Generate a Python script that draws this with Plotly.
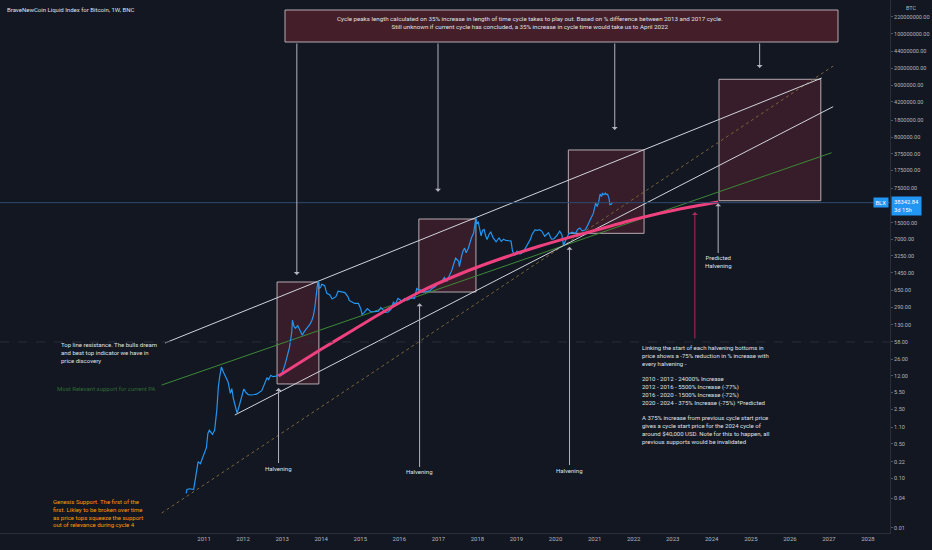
import math
import plotly.graph_objects as go

# weekly closes of the BLX index
price_dates = [
    "2010-07-18", "2010-07-25", "2010-08-22", "2010-09-26", "2010-10-10", "2010-10-24",
    "2010-11-07", "2010-11-28", "2010-12-26", "2011-01-23", "2011-02-06", "2011-02-20",
    "2011-03-20", "2011-04-10", "2011-05-01", "2011-05-15", "2011-05-29", "2011-06-12",
    "2011-07-03", "2011-07-24", "2011-08-14", "2011-09-04", "2011-09-18", "2011-10-02",
    "2011-10-23", "2011-11-06", "2011-11-27", "2011-12-18", "2012-01-08", "2012-01-29",
    "2012-02-19", "2012-03-18", "2012-05-06", "2012-06-24", "2012-07-22", "2012-08-12",
    "2012-08-26", "2012-09-16", "2012-10-07", "2012-11-04", "2012-11-25", "2012-12-30",
    "2013-01-27", "2013-02-17", "2013-03-10", "2013-03-31", "2013-04-07", "2013-04-21",
    "2013-05-05", "2013-05-26", "2013-07-07", "2013-07-28", "2013-08-18", "2013-09-15",
    "2013-10-06", "2013-10-20", "2013-11-03", "2013-11-17", "2013-11-24", "2013-12-01",
    "2013-12-08", "2013-12-15", "2013-12-29", "2014-01-05", "2014-01-19", "2014-02-02",
    "2014-02-16", "2014-02-23", "2014-03-23", "2014-04-13", "2014-05-18", "2014-06-08",
    "2014-07-13", "2014-08-10", "2014-09-07", "2014-09-21", "2014-10-12", "2014-11-09",
    "2014-12-14", "2015-01-04", "2015-01-18", "2015-02-08", "2015-03-08", "2015-04-12",
    "2015-05-17", "2015-06-21", "2015-07-12", "2015-08-23", "2015-09-20", "2015-10-18",
    "2015-11-08", "2015-11-22", "2015-12-20", "2016-01-10", "2016-01-24", "2016-02-21",
    "2016-03-20", "2016-04-24", "2016-05-22", "2016-06-12", "2016-06-26", "2016-07-17",
    "2016-08-07", "2016-09-11", "2016-10-16", "2016-11-06", "2016-12-04", "2016-12-25",
    "2017-01-08", "2017-01-29", "2017-02-26", "2017-03-19", "2017-04-09", "2017-05-07",
    "2017-05-21", "2017-06-11", "2017-07-09", "2017-07-16", "2017-08-06", "2017-08-20",
    "2017-09-03", "2017-09-17", "2017-10-08", "2017-10-22", "2017-11-05", "2017-11-26",
    "2017-12-10", "2017-12-17", "2017-12-24", "2018-01-07", "2018-01-21", "2018-02-04",
    "2018-02-18", "2018-03-04", "2018-03-18", "2018-04-01", "2018-04-22", "2018-05-06",
    "2018-05-27", "2018-06-24", "2018-07-22", "2018-08-12", "2018-09-02", "2018-09-23",
    "2018-10-21", "2018-11-11", "2018-11-25", "2018-12-16", "2019-01-06", "2019-02-03",
    "2019-03-03", "2019-04-07", "2019-05-12", "2019-05-26", "2019-06-23", "2019-07-14",
    "2019-08-04", "2019-08-25", "2019-09-22", "2019-10-27", "2019-11-24", "2019-12-15",
    "2020-01-12", "2020-02-09", "2020-03-01", "2020-03-15", "2020-04-05", "2020-05-03",
    "2020-06-07", "2020-07-05", "2020-07-26", "2020-08-16", "2020-09-06", "2020-10-04",
    "2020-10-25", "2020-11-15", "2020-12-06", "2020-12-20", "2021-01-03", "2021-01-10",
    "2021-01-24", "2021-02-07", "2021-02-21", "2021-03-07", "2021-03-14", "2021-03-28",
    "2021-04-11", "2021-04-18", "2021-05-02", "2021-05-16", "2021-05-23", "2021-06-06",
    "2021-06-14",
]
price_values = [
    0.05, 0.06, 0.062, 0.06, 0.093, 0.16,
    0.22, 0.20, 0.30, 0.42, 0.82, 0.95,
    0.78, 0.95, 2.5, 7.2, 12, 18,
    14, 11.5, 9, 5.3, 6.6, 4.2,
    2.8, 2.1, 3.0, 4.2, 6.5, 5.5,
    5.0, 4.9, 5.1, 6.0, 8.5, 11,
    10, 12.3, 11.5, 11.8, 12.5, 13.5,
    20, 30, 45, 90, 160, 120,
    110, 125, 80, 95, 110, 130,
    160, 200, 300, 550, 800, 1000,
    850, 700, 760, 850, 830, 800,
    620, 560, 520, 430, 480, 620,
    600, 580, 480, 400, 380, 350,
    350, 280, 210, 230, 275, 235,
    238, 245, 290, 230, 235, 270,
    380, 330, 440, 410, 390, 440,
    410, 460, 440, 700, 660, 660,
    590, 610, 640, 710, 765, 900,
    910, 960, 1180, 970, 1180, 1650,
    2100, 2900, 2500, 1950, 3200, 4100,
    4600, 3700, 4600, 6000, 7400, 9300,
    15000, 19000, 14000, 16000, 11500, 8200,
    10500, 11000, 8300, 6900, 9000, 9700,
    7500, 6200, 7400, 6300, 7000, 6600,
    6500, 6400, 4000, 3300, 4000, 3500,
    3800, 5100, 7000, 8700, 10800, 10500,
    10900, 10200, 8000, 9400, 7000, 7100,
    8200, 10200, 8500, 5300, 6800, 8900,
    9700, 9100, 11000, 11800, 10300, 10700,
    13000, 16000, 19100, 23500, 32000, 38000,
    32000, 39000, 57000, 51000, 59000, 55800,
    60000, 56000, 57000, 46000, 35000, 35800,
    38342.84,
]
last_price = 38342.84

# pink projection through the halvening bottoms
projection_dates = [
    "2012-11-28", "2013-12-20", "2014-09-26", "2015-07-03", "2016-07-09", "2017-07-21",
    "2018-07-30", "2019-08-08", "2020-05-11", "2021-02-20", "2022-03-01", "2023-03-09",
    "2024-03-01",
]
projection_values = [11.9, 39.9, 92.3, 214, 596, 1380, 2773, 5082, 7624, 11250, 18760, 28530, 39550]

# trend lines (two anchors each)
top_resistance_dates = ["2010-01-01", "2026-10-26"]
top_resistance_values = [55.3, 12.8e6]
channel_support_dates = ["2011-10-16", "2027-02-09"]
channel_support_values = [1.93, 3.36e6]
relevant_support_dates = ["2009-12-01", "2027-01-26"]
relevant_support_values = [7.8, 393000]
genesis_support_dates = ["2009-12-01", "2027-02-10"]
genesis_support_values = [0.020, 22.4e6]

# cycle peak boxes
box_starts = ["2012-11-14", "2016-07-02", "2020-04-30", "2024-03-09"]
box_ends = ["2013-12-10", "2017-12-18", "2022-04-08", "2026-10-17"]
box_lows = [8.2, 596, 9180, 42000]
box_highs = [950, 17900, 447000, 12050000]

# halvening arrows
halving_dates = ["2012-11-28", "2016-07-09", "2020-05-11"]
halving_tips = [6.8, 352, 4920]
predicted_halving_date = "2024-03-01"
predicted_halving_tip = 37200

# arrows from the note at the top down to each cycle box
peak_arrow_dates = ["2013-05-18", "2016-12-28", "2021-07-08", "2025-03-24"]
peak_arrow_tips = [1318, 63400, 1130000, 20400000]

pink_arrow_date = "2023-07-27"
pink_arrow_tip = 24800

year_ticks = list(range(2011, 2029))
price_ticks = [0.01, 0.04, 0.10, 0.22, 0.50, 1.10, 2.50, 5.50, 12, 26, 58, 130, 290, 650,
               1450, 3250, 7000, 15000, 75000, 175000, 375000, 800000, 1800000, 4200000,
               9000000, 20000000, 44000000, 100000000, 220000000]

BG = "#131722"
WHITE = "#dfe1e8"
GREY = "#b2b5be"
FONT = "Trebuchet MS, Roboto, sans-serif"
BOX_FILL = "rgba(150,45,60,0.28)"
BOX_LINE = "#b5aab0"

Y_RANGE = [-2.103, 8.686]
PLOT_W, PLOT_H = 890, 533


def y_px(v):
    return (Y_RANGE[1] - math.log10(v)) / (Y_RANGE[1] - Y_RANGE[0]) * PLOT_H


def px(x):
    return x / PLOT_W


def py(y):
    return 1 - y / PLOT_H


fig = go.Figure()

for s, e, lo, hi in zip(box_starts, box_ends, box_lows, box_highs):
    fig.add_trace(go.Scatter(x=[s, e, e, s, s], y=[lo, lo, hi, hi, lo], mode="lines",
                             fill="toself", fillcolor=BOX_FILL,
                             line=dict(color=BOX_LINE, width=1), hoverinfo="skip"))

fig.add_trace(go.Scatter(x=genesis_support_dates, y=genesis_support_values, mode="lines",
                         line=dict(color="#7a6538", width=1, dash="dot"), hoverinfo="skip"))
fig.add_trace(go.Scatter(x=relevant_support_dates, y=relevant_support_values, mode="lines",
                         line=dict(color="#3d8a36", width=1), hoverinfo="skip"))
fig.add_trace(go.Scatter(x=top_resistance_dates, y=top_resistance_values, mode="lines",
                         line=dict(color="#d1d4dc", width=1), hoverinfo="skip"))
fig.add_trace(go.Scatter(x=channel_support_dates, y=channel_support_values, mode="lines",
                         line=dict(color="#d1d4dc", width=1), hoverinfo="skip"))

fig.add_trace(go.Scatter(x=price_dates, y=price_values, mode="lines",
                         line=dict(color="#2196f3", width=1.2), hoverinfo="skip"))
fig.add_trace(go.Scatter(x=projection_dates, y=projection_values, mode="lines",
                         line=dict(color="#f0417f", width=3, shape="spline", smoothing=0.6),
                         hoverinfo="skip"))

# last price line and crosshair
fig.add_hline(y=last_price, line=dict(color="#2c4d70", width=1))
fig.add_hline(y=58, line=dict(color="#2a2e39", width=1, dash="dash"))

# note at the top
fig.add_shape(type="rect", xref="paper", yref="paper", x0=px(285), x1=px(838),
              y0=py(42), y1=py(10), fillcolor="rgba(110,36,45,0.55)",
              line=dict(color=BOX_LINE, width=1))

ann = []


def note(x, y, text, color=WHITE, size=6, align="left", xanchor="left", yanchor="top"):
    ann.append(dict(xref="paper", yref="paper", x=x, y=y, text=text, showarrow=False,
                    align=align, xanchor=xanchor, yanchor=yanchor,
                    font=dict(family=FONT, size=size, color=color)))


note(px(5), py(4), "BraveNewCoin Liquid Index for Bitcoin, 1W, BNC", size=6)
note(px(530), py(23),
     "Cycle peaks length calculated on 35% increase in length of time cycle takes to play out. "
     "Based on % difference between 2013 and 2017 cycle.<br>Still unknown if current cycle has "
     "concluded, a 35% increase in cycle time would take us to April 2022",
     size=6.2, align="center", xanchor="center", yanchor="middle")
note(px(59), py(339), "Top line resistance. The bulls dream<br>and best top indicator we have in<br>price discovery")
note(px(55), py(388), "Most Relevant support for current PA", color="#2f6b34", yanchor="middle")
note(px(51), py(496),
     "Genesis Support. The first of the<br>first. Likley to be broken over time<br>"
     "as price tops squeeze the support<br>out of relevance during cycle 4",
     color="#ff9800")
note(px(640), py(342),
     "Linking the start of each halvening bottoms in<br>price shows a -75% reduction in % increase with"
     "<br>every halvening -<br><br>2010 - 2012 - 24000% Increase<br>2012 - 2016 - 5500% Increase (-77%)"
     "<br>2016 - 2020 - 1500% Increase (-72%)<br>2020 - 2024 - 375% Increase (-75%) *Predicted<br><br>"
     "A 375% increase from previous cycle start price<br>gives a cycle start price for the 2024 cycle of"
     "<br>around $40,000 USD. Note for this to happen, all<br>previous supports would be invalidated")

arrow = dict(showarrow=True, arrowhead=1, arrowsize=1, arrowwidth=1, arrowcolor=GREY,
             xref="x", yref="y", ax=0, font=dict(family=FONT, size=6, color=WHITE))

halving_label_px = [468, 472, 470]
for d, tip, lab in zip(halving_dates, halving_tips, halving_label_px):
    ann.append(dict(arrow, x=d, y=math.log10(tip), ay=lab - y_px(tip), text="Halvening"))
ann.append(dict(arrow, x=predicted_halving_date, y=math.log10(predicted_halving_tip),
                ay=262 - y_px(predicted_halving_tip), text="Predicted<br>Halvening"))

for d, tip in zip(peak_arrow_dates, peak_arrow_tips):
    ann.append(dict(arrow, x=d, y=math.log10(tip), ay=42 - y_px(tip), text=""))

ann.append(dict(arrow, x=pink_arrow_date, y=math.log10(pink_arrow_tip),
                ay=340 - y_px(pink_arrow_tip), text="", arrowcolor="#b0285e"))

# last price labels on the scale
ann.append(dict(xref="paper", yref="y", x=px(889), y=math.log10(last_price), text="BLX",
                showarrow=False, xanchor="right", yanchor="middle", bgcolor="#2196f3",
                borderpad=1.5, font=dict(family=FONT, size=5.8, color="white")))
ann.append(dict(xref="paper", yref="y", x=px(891), y=math.log10(last_price),
                text=f"{last_price:.2f}<br>3d 15h", showarrow=False, xanchor="left",
                yanchor="top", yshift=7, align="left", bgcolor="#2196f3", borderpad=2,
                font=dict(family=FONT, size=5.8, color="white")))
ann.append(dict(xref="paper", yref="paper", x=px(904), y=py(8), text="BTC", showarrow=False,
                xanchor="left", yanchor="middle", font=dict(family=FONT, size=5.5, color=GREY)))

fig.update_layout(
    width=932, height=550,
    margin=dict(l=0, r=42, t=0, b=17),
    paper_bgcolor=BG, plot_bgcolor=BG,
    showlegend=False,
    annotations=ann,
    xaxis=dict(type="date", range=["2005-10-11", "2028-07-25"],
               tickvals=[f"{y}-01-01" for y in year_ticks], ticktext=[str(y) for y in year_ticks],
               showgrid=False, zeroline=False, showline=True, linecolor="#2a2e39",
               ticks="", tickfont=dict(family=FONT, size=6, color=GREY), automargin=False),
    yaxis=dict(type="log", range=Y_RANGE, side="right",
               tickvals=price_ticks, ticktext=[f"{v:.2f}" for v in price_ticks],
               showgrid=False, zeroline=False, showline=True, linecolor="#2a2e39",
               ticks="outside", ticklen=2, tickcolor="#50535e",
               tickfont=dict(family=FONT, size=5.5, color=GREY), automargin=False),
)

# drop the page's default body margin so the chart sits at the window's corner
fig.write_html("out.html", config={"displayModeBar": False},
               post_script="document.body.style.margin='0';")
